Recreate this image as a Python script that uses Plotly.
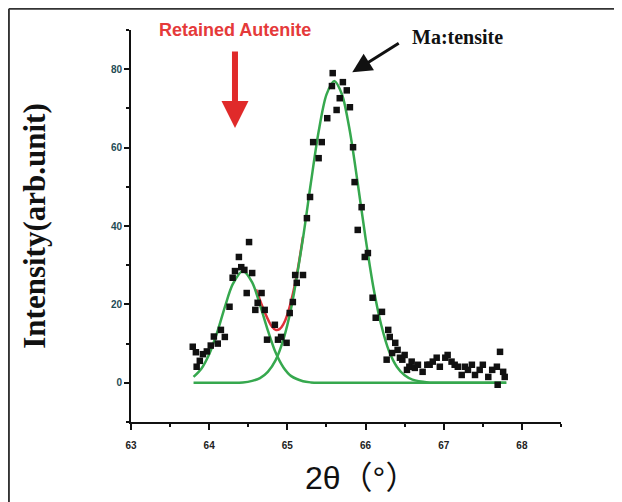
import plotly.graph_objects as go

# ---- data ----
two_theta = [63.79, 63.83, 63.84, 63.88, 63.92, 63.97, 64.02, 64.06, 64.11, 64.15,
             64.20, 64.26, 64.30, 64.33, 64.38, 64.41, 64.45, 64.48, 64.51, 64.55,
             64.59, 64.62, 64.67, 64.71, 64.74, 64.84, 64.88, 64.92, 64.99, 65.03,
             65.07, 65.10, 65.12, 65.20, 65.25, 65.29, 65.33, 65.40, 65.44, 65.51,
             65.57, 65.58, 65.63, 65.67, 65.71, 65.76, 65.80, 65.84, 65.86, 65.90,
             65.95, 65.99, 66.03, 66.09, 66.13, 66.21, 66.27, 66.29, 66.31, 66.34,
             66.38, 66.41, 66.44, 66.47, 66.50, 66.53, 66.56, 66.59, 66.63, 66.67,
             66.73, 66.79, 66.82, 66.86, 66.91, 66.95, 67.02, 67.05, 67.10, 67.14,
             67.18, 67.23, 67.27, 67.31, 67.36, 67.40, 67.46, 67.50, 67.57, 67.62,
             67.68, 67.69, 67.72, 67.76, 67.78]
intensity = [9.2, 7.8, 4.1, 5.6, 7.3, 8.0, 9.5, 11.8, 10.0, 13.5,
             11.7, 19.4, 26.8, 28.5, 32.1, 29.5, 28.8, 22.9, 35.9, 28.0,
             18.6, 20.4, 22.9, 18.6, 11.0, 14.8, 11.0, 11.7, 10.2, 17.8,
             20.6, 27.5, 25.5, 27.5, 42.0, 47.4, 61.4, 57.3, 61.4, 67.5,
             75.7, 79.0, 69.6, 72.6, 76.7, 74.6, 70.3, 60.1, 51.2, 39.0,
             44.8, 32.1, 33.1, 21.7, 16.6, 18.1, 5.9, 13.5, 11.7, 7.6,
             10.2, 8.4, 6.4, 5.9, 7.1, 3.3, 4.1, 5.4, 3.8, 4.6,
             2.8, 4.6, 4.6, 5.4, 6.4, 4.1, 6.4, 7.1, 5.4, 4.6,
             4.1, 2.0, 4.1, 3.3, 4.6, 2.0, 3.3, 4.6, 1.5, 3.3,
             4.1, -0.5, 7.9, 2.8, 1.5]

fit_x = [63.8, 63.9, 64.0, 64.1, 64.2, 64.3, 64.43, 64.55, 64.65, 64.75, 64.85,
         64.95, 65.05, 65.2, 65.3, 65.4, 65.5, 65.6, 65.7, 65.8, 65.9, 66.0,
         66.1, 66.2, 66.3, 66.4, 66.5, 66.6, 66.8, 67.0, 67.8]
fit_austenite = [1.5, 3.6, 7.3, 12.7, 19.3, 25.1, 28.5, 25.6, 19.9, 13.4, 7.7,
                 3.9, 1.7, 0.4, 0.1, 0, 0, 0, 0, 0, 0, 0,
                 0, 0, 0, 0, 0, 0, 0, 0, 0]
fit_martensite = [0, 0, 0, 0, 0, 0, 0.1, 0.5, 1.2, 2.8, 5.8,
                  11.1, 19.2, 36.9, 50.9, 64.1, 73.5, 77.0, 73.5, 64.1, 50.9, 36.9,
                  24.4, 14.8, 8.1, 4.1, 1.9, 0.8, 0.1, 0, 0]

sum_x = [64.6, 64.7, 64.8, 64.85, 64.9, 64.95, 65.0, 65.1, 65.2]
fit_sum = [23.8, 18.5, 14.4, 13.5, 13.7, 15.0, 17.4, 25.4, 37.3]

x_ticks = [63, 64, 65, 66, 67, 68]
y_ticks = [0, 20, 40, 60, 80]

GREEN = "#36a84e"

fig = go.Figure()
fig.add_trace(go.Scatter(x=sum_x, y=fit_sum, mode="lines",
                         line=dict(color="#e0303a", width=2.5, shape="spline"),
                         hoverinfo="skip", showlegend=False))
fig.add_trace(go.Scatter(x=fit_x, y=fit_austenite, mode="lines",
                         line=dict(color=GREEN, width=2.5, shape="spline", smoothing=0.8),
                         showlegend=False))
fig.add_trace(go.Scatter(x=fit_x, y=fit_martensite, mode="lines",
                         line=dict(color=GREEN, width=2.5, shape="spline", smoothing=0.8),
                         showlegend=False))
fig.add_trace(go.Scatter(x=two_theta, y=intensity, mode="markers",
                         marker=dict(symbol="square", size=6.5, color="#111111"),
                         showlegend=False))

fig.update_layout(
    width=614, height=494,
    margin=dict(l=123, r=61, t=22, b=80),
    paper_bgcolor="white", plot_bgcolor="white",
    xaxis=dict(range=[63, 68.5], tickvals=x_ticks, ticktext=[str(v) for v in x_ticks],
               automargin=False,
               showgrid=False, zeroline=False, showline=True, linecolor="#111",
               linewidth=2, ticks="outside", ticklen=6, tickwidth=2, tickcolor="#111",
               ticklabelstandoff=7,
               minor=dict(dtick=0.5, tick0=63, ticks="outside", ticklen=3,
                          tickwidth=2, tickcolor="#111", showgrid=False),
               tickfont=dict(family="Liberation Sans", size=10, color="#222", weight="bold")),
    yaxis=dict(range=[-10, 90], tickvals=y_ticks, ticktext=[str(v) for v in y_ticks],
               automargin=False,
               showgrid=False, zeroline=False, showline=True, linecolor="#111",
               linewidth=2, ticks="outside", ticklen=5, tickwidth=2, tickcolor="#111",
               minor=dict(dtick=10, tick0=0, ticks="outside", ticklen=3,
                          tickwidth=2, tickcolor="#111", showgrid=False),
               tickfont=dict(family="Liberation Sans", size=10, color="#1f4b55", weight="bold"),
               title=dict(text="Intensity(arb.unit)", standoff=56,
                          font=dict(family="Liberation Serif", size=31, color="#111", weight="bold"))),
    shapes=[
        dict(type="line", xref="paper", yref="paper", x0=-0.284, x1=-0.284, y0=-0.21, y1=1.054,
             line=dict(color="#333", width=2)),
        dict(type="line", xref="paper", yref="paper", x0=-0.284, x1=1.15, y0=1.054, y1=1.054,
             line=dict(color="#333", width=2)),
    ],
    annotations=[
        dict(text="2θ（°）", x=0.40, y=-0.143, xref="paper", yref="paper",
             xanchor="left", yanchor="middle", showarrow=False,
             font=dict(family="Liberation Sans, Noto Sans CJK SC", size=32, color="#111")),
        dict(text="Retained Autenite", x=64.33, y=1.0, xref="x", yref="paper",
             xanchor="center", yanchor="middle", showarrow=False,
             font=dict(family="Liberation Sans", size=18, color="#e53a3a", weight="bold")),
        dict(text="", x=64.33, y=65, xref="x", yref="y", showarrow=True,
             ax=0, ay=-78, arrowhead=2, arrowsize=0.9, arrowwidth=6, arrowcolor="#e02a2a"),
        dict(text="Ma:tensite", x=67.17, y=0.982, xref="x", yref="paper",
             xanchor="center", yanchor="middle", showarrow=False,
             font=dict(family="Liberation Serif", size=20, color="#111", weight="bold")),
        dict(text="", x=65.83, y=79.2, xref="x", yref="y", showarrow=True,
             ax=48, ay=-30, arrowhead=2, arrowsize=1.3, arrowwidth=3, arrowcolor="#111"),
    ],
)

fig.write_html("out.html")
